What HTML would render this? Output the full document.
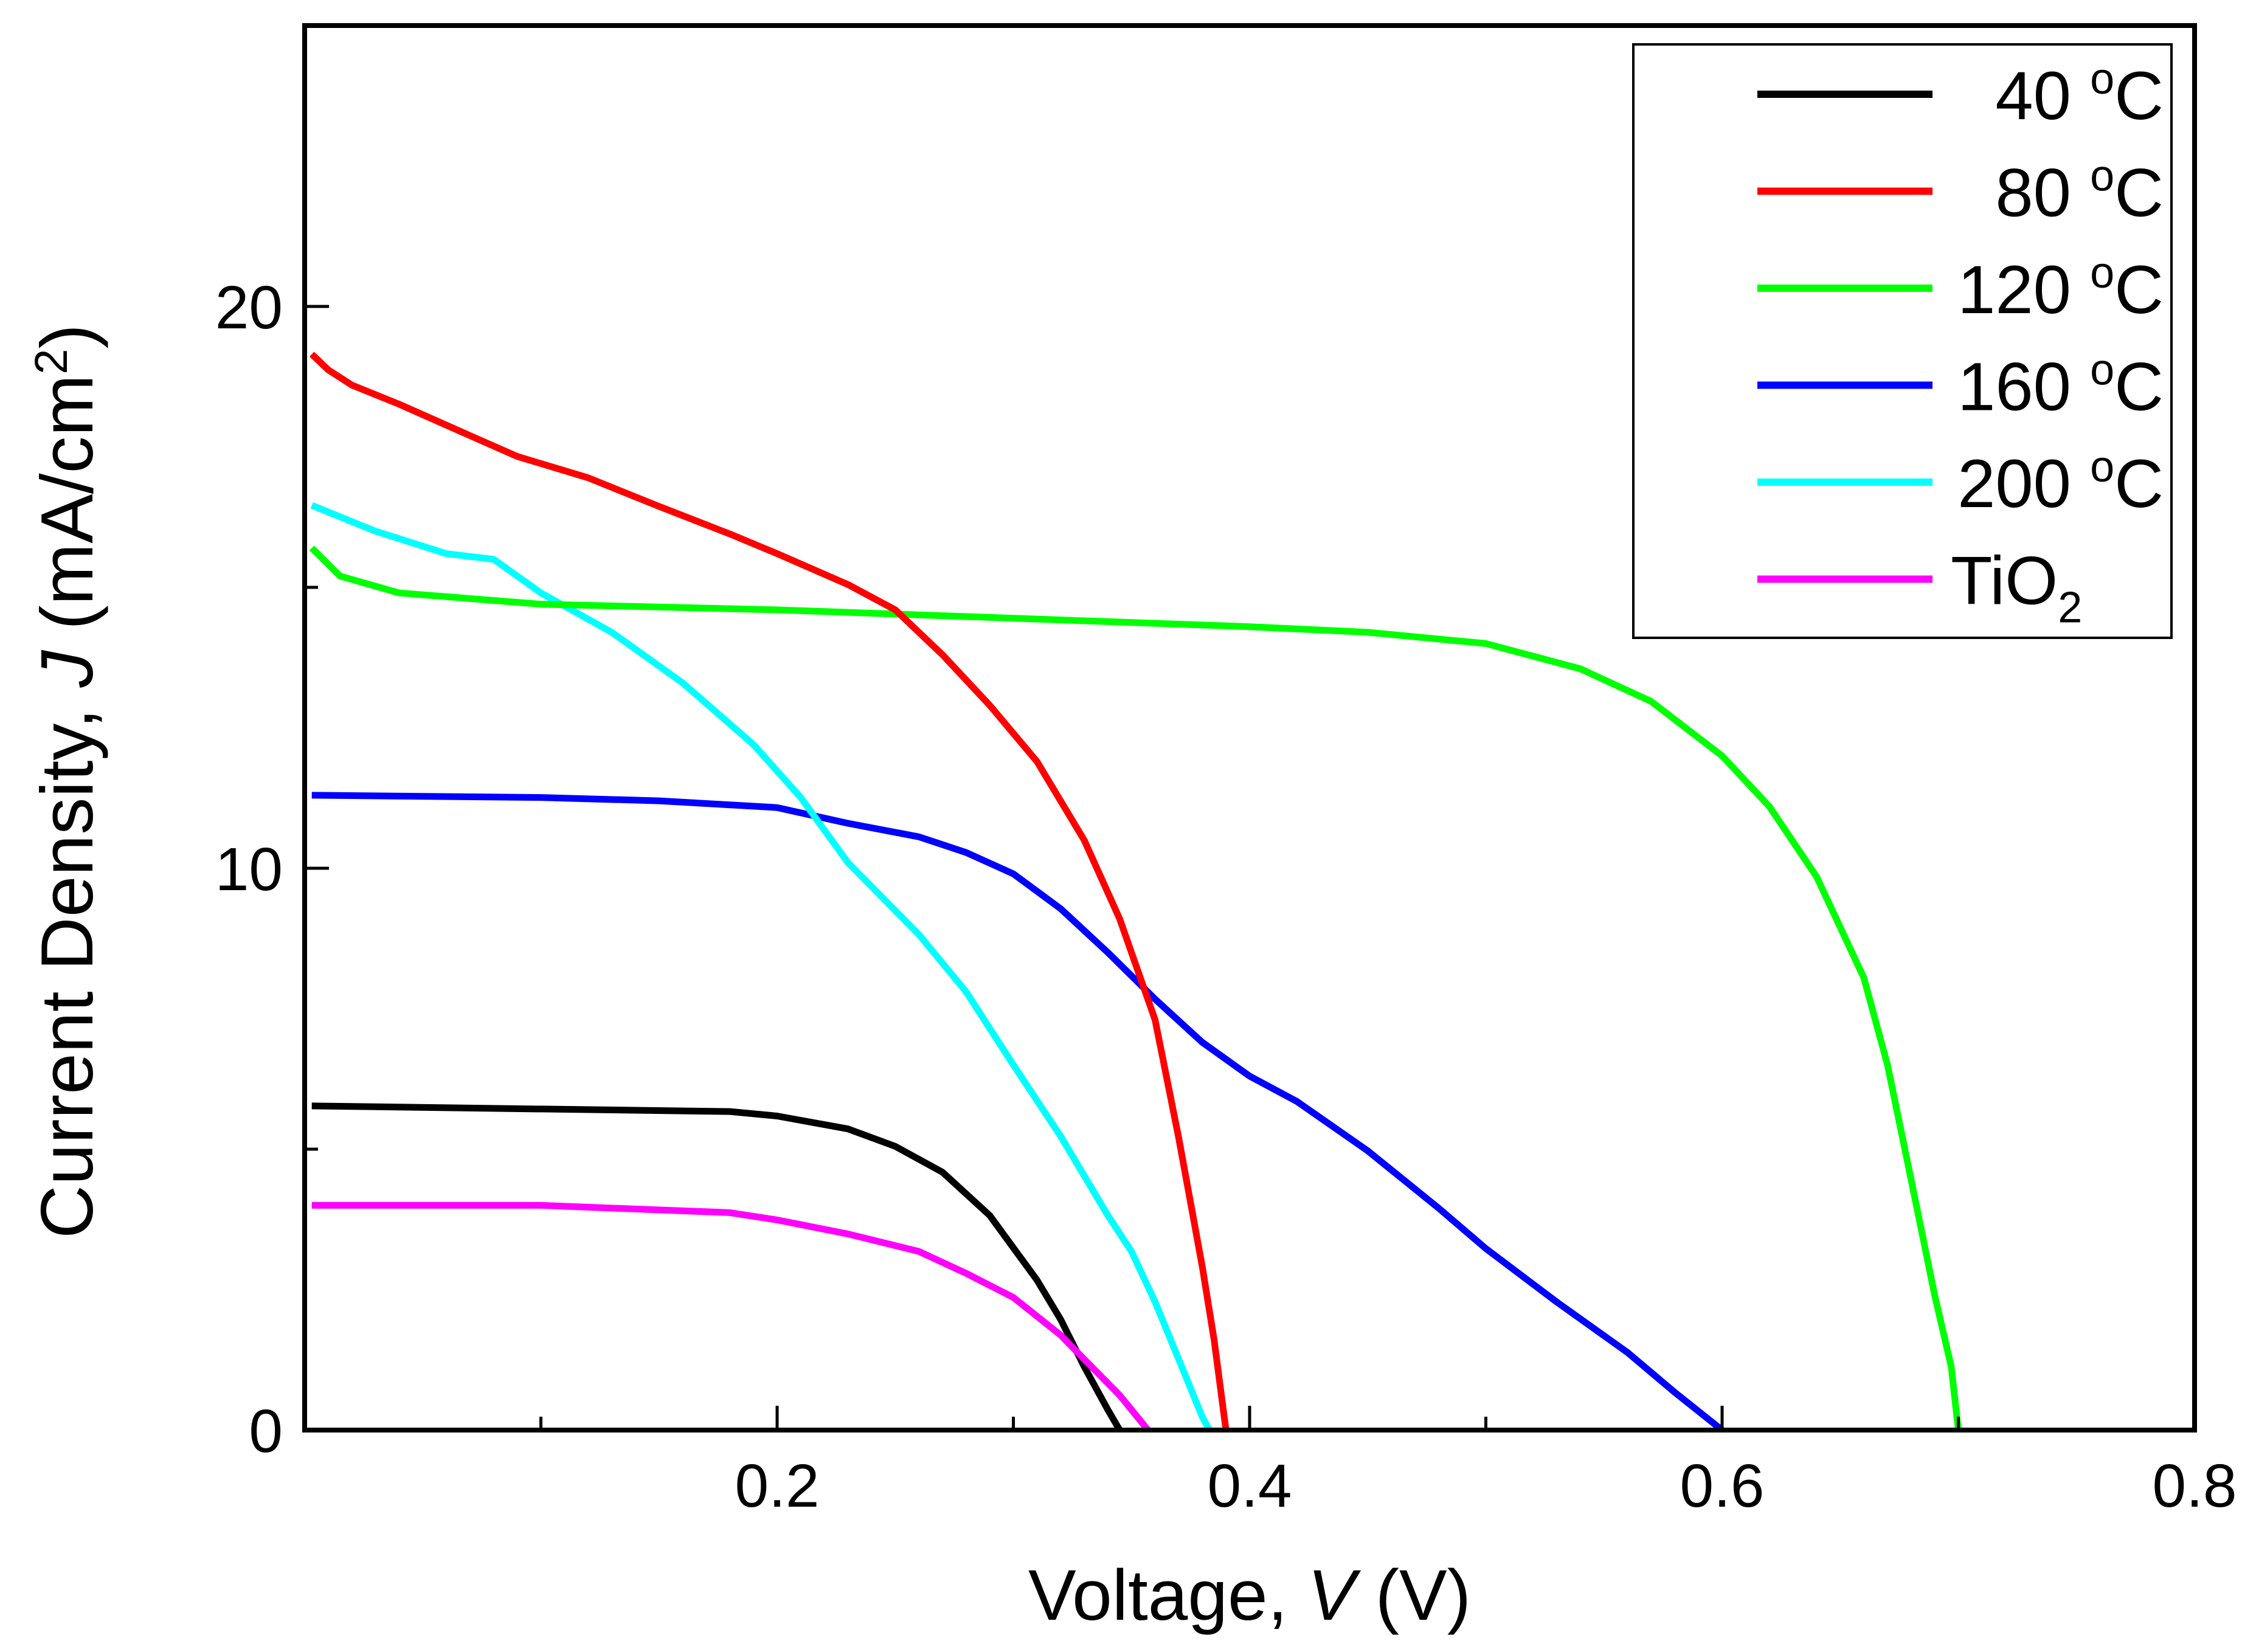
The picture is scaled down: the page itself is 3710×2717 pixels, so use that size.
<!DOCTYPE html>
<html><head><meta charset="utf-8"><style>
html,body{margin:0;padding:0;background:#fff;}
svg{display:block;font-family:"Liberation Sans",Arial,sans-serif;}
</style></head><body>
<svg id="chart" width="3710" height="2717" viewBox="0 0 3710 2717" xmlns="http://www.w3.org/2000/svg">
<rect x="0" y="0" width="3710" height="2717" fill="#fff"/>
<g id="series"></g>
<rect x="501" y="42" width="3108" height="2310" fill="none" stroke="#000" stroke-width="8"/>
<g id="axes"></g>
<text x="2055" y="2664" font-size="118" text-anchor="middle">Voltage, <tspan font-style="italic">V</tspan> (V)</text>
<text transform="translate(152,1285) rotate(-90)" font-size="122" text-anchor="middle">Current Density, <tspan font-style="italic">J</tspan> (mA/cm<tspan baseline-shift="super" font-size="76">2</tspan>)</text>
<g id="legend">
<rect x="2686" y="73" width="885" height="976" fill="#fff" stroke="#000" stroke-width="4"/>
</g>
</svg>
<script>
const categoriesSeries = ["40 °C","80 °C","120 °C","160 °C","200 °C","TiO2"];
const seriesColors = ["#000000","#ff0000","#00ff00","#0000ff","#00ffff","#ff00ff"];
const v40 = [0.003,0.18,0.2,0.23,0.25,0.27,0.29,0.31,0.32,0.33,0.34,0.345];
const j40 = [5.77,5.67,5.59,5.36,5.05,4.59,3.82,2.67,1.97,1.13,0.36,0];
const v80 = [0.003,0.01,0.02,0.04,0.07,0.09,0.12,0.15,0.18,0.2,0.23,0.25,0.27,0.29,0.31,0.33,0.345,0.36,0.37,0.38,0.385,0.39];
const j80 = [19.15,18.87,18.6,18.26,17.7,17.33,16.95,16.44,15.95,15.6,15.05,14.6,13.8,12.9,11.9,10.5,9.1,7.3,5.2,2.9,1.6,0];
const v120 = [0.003,0.015,0.04,0.1,0.2,0.3,0.4,0.45,0.5,0.54,0.57,0.6,0.62,0.64,0.66,0.67,0.68,0.69,0.697,0.7];
const j120 = [15.7,15.2,14.9,14.7,14.6,14.45,14.3,14.2,14.0,13.55,12.97,12.0,11.1,9.85,8.05,6.5,4.46,2.4,1.13,0];
const v160 = [0.003,0.1,0.15,0.2,0.23,0.26,0.28,0.3,0.32,0.34,0.36,0.38,0.4,0.42,0.45,0.48,0.5,0.53,0.56,0.58,0.6];
const j160 = [11.3,11.26,11.2,11.08,10.8,10.56,10.28,9.9,9.28,8.5,7.67,6.9,6.3,5.85,4.97,3.95,3.23,2.28,1.38,0.67,0];
const v200 = [0.003,0.03,0.06,0.08,0.1,0.13,0.16,0.19,0.21,0.23,0.26,0.28,0.3,0.32,0.34,0.35,0.36,0.37,0.38,0.383];
const j200 = [16.46,16.0,15.6,15.5,14.9,14.2,13.3,12.2,11.26,10.1,8.82,7.8,6.5,5.23,3.82,3.18,2.28,1.26,0.23,0];
const vTiO2 = [0.003,0.1,0.18,0.2,0.23,0.26,0.28,0.3,0.32,0.33,0.345,0.357];
const jTiO2 = [4.0,4.0,3.87,3.74,3.49,3.18,2.79,2.36,1.69,1.26,0.62,0];
const xTickLabels = ["0.2","0.4","0.6","0.8"];
const xTickValues = [0.2,0.4,0.6,0.8];
const xMinorValues = [0.1,0.3,0.5,0.7];
const yTickLabels = ["0","10","20"];
const yTickValues = [0,10,20];
const yMinorValues = [5,15];

const NS="http://www.w3.org/2000/svg";
const X0=501,X1=3609,Y0=2352,Y1=42;
function xs(v){return X0+(v-0)/(0.8-0)*(X1-X0);}
function ys(j){return Y0-(j-0)/(25-0)*(Y0-Y1);}
function mk(tag,attrs,parent){const e=document.createElementNS(NS,tag);for(const k in attrs)e.setAttribute(k,attrs[k]);parent.appendChild(e);return e;}

const sg=document.getElementById('series');
const allV=[v40,v80,v120,v160,v200,vTiO2];
const allJ=[j40,j80,j120,j160,j200,jTiO2];
const names=["series-40c","series-80c","series-120c","series-160c","series-200c","series-tio2"];
[3,4,0,5,2,1].forEach(i=>{
  const d=allV[i].map((v,k)=>(k?'L':'M')+xs(v).toFixed(1)+' '+ys(allJ[i][k]).toFixed(1)).join(' ');
  const p=mk('path',{d:d,fill:'none',stroke:seriesColors[i],'stroke-width':11,'stroke-linejoin':'round'},sg);
  
  
});

const ag=document.getElementById('axes');
xTickValues.forEach((v,i)=>{
  const t=mk('line',{x1:xs(v),x2:xs(v),y1:Y0,y2:Y0-40,stroke:'#000','stroke-width':5},ag);
  
  
  const l=mk('text',{x:xs(v),y:2478,'font-size':100,'text-anchor':'middle'},ag);
  l.textContent=xTickLabels[i];
  
  
});
xMinorValues.forEach(v=>{
  const t=mk('line',{x1:xs(v),x2:xs(v),y1:Y0,y2:Y0-22,stroke:'#000','stroke-width':5},ag);
  
  
});
yTickValues.forEach((v,i)=>{
  const t=mk('line',{x1:X0,x2:X0+40,y1:ys(v),y2:ys(v),stroke:'#000','stroke-width':5},ag);
  
  
  const l=mk('text',{x:465,y:ys(v)+36,'font-size':100,'text-anchor':'end'},ag);
  l.textContent=yTickLabels[i];
  
  
});
yMinorValues.forEach(v=>{
  const t=mk('line',{x1:X0,x2:X0+22,y1:ys(v),y2:ys(v),stroke:'#000','stroke-width':5},ag);
  
  
});

const lg=document.getElementById('legend');
categoriesSeries.forEach((c,i)=>{
  const y=155+i*159.5;
  const ln=mk('line',{x1:2890,x2:3178,y1:y,y2:y,stroke:seriesColors[i],'stroke-width':12},lg);
  
  
  let t;
  if(c==="TiO2"){
    t=mk('text',{x:3208,y:y+41,'font-size':112},lg);
    t.innerHTML='TiO<tspan font-size="72" dy="30">2</tspan>';
  } else {
    const parts=c.split(' ');
    t=mk('text',{x:3558,y:y+41,'font-size':112,'text-anchor':'end'},lg);
    t.innerHTML=parts[0]+' <tspan font-size="72" dy="-42">o</tspan><tspan dy="42">C</tspan>';
  }
  
  
});
</script>
</body></html>
